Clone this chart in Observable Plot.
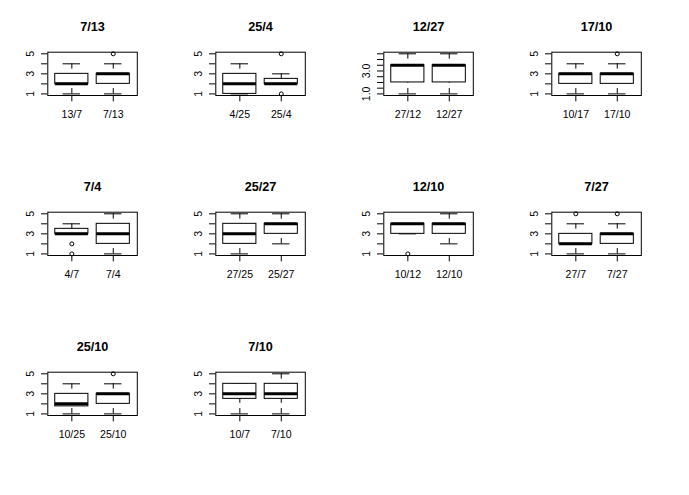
<!DOCTYPE html>
<html><head><meta charset="utf-8">
<script src="https://cdn.jsdelivr.net/npm/d3@7"></script>
<script src="https://cdn.jsdelivr.net/npm/@observablehq/plot@0.6"></script>
<style>
body{margin:0;background:#fff;}
#chart{position:relative;width:689px;height:495px;background:#fff;overflow:hidden;}
#chart svg{position:absolute;overflow:visible;}
</style></head><body><div id="chart"></div>
<script>
// Panel titles and group labels
const titles = ["7/13","25/4","12/27","17/10","7/4","25/27","12/10","7/27","25/10","7/10"];
const groupA = ["13/7","4/25","27/12","10/17","4/7","27/25","10/12","27/7","10/25","10/7"];
const groupB = ["7/13","25/4","12/27","17/10","7/4","25/27","12/10","7/27","25/10","7/10"];
// Box statistics: [lower whisker, Q1, median, Q3, upper whisker]
const statsA = [
  [1,2,2,3,4],[1,1,2,3,4],[1,2,3.5,3.5,4.5],[1,2,3,3,4],[3,3,3,3.5,4],
  [1,2,3,4,5],[3,3,4,4,4],[1,2,2,3,4],[1,1.75,2,3,4],[1,2.5,3,4,4]
];
const statsB = [
  [1,2,3,3,4],[2,2,2,2.5,3],[1,2,3.5,3.5,4.5],[1,2,3,3,4],[1,2,3,4,5],
  [2,3,4,4,5],[2,3,4,4,5],[1,2,3,3,4],[1,2,3,3,4],[1,2.5,3,4,5]
];
// Outliers
const outA = [[],[],[],[],[2,1],[],[1],[5],[],[]];
const outB = [[5],[1,5],[],[5],[],[],[],[5],[5],[]];
// Y axis ranges, ticks and labelled ticks
const yRanges = [[1,5],[1,5],[1,4.5],[1,5],[1,5],[1,5],[1,5],[1,5],[1,5],[1,5]];
const yTicksInt = [1,2,3,4,5];
const yLabelsInt = [1,3,5];
const yTicksHalf = [1,1.5,2,2.5,3,3.5,4,4.5];
const yLabelsHalf = [1,3];

const chart = document.getElementById("chart");
const font = '"Liberation Sans", Arial, Helvetica, sans-serif';

for (let i = 0; i < titles.length; i++) {
  const r = Math.floor(i / 4), c = i % 4;
  const boxes = [
    {g: 1, name: groupA[i], lo: statsA[i][0], q1: statsA[i][1], med: statsA[i][2], q3: statsA[i][3], hi: statsA[i][4]},
    {g: 2, name: groupB[i], lo: statsB[i][0], q1: statsB[i][1], med: statsB[i][2], q3: statsB[i][3], hi: statsB[i][4]}
  ];
  const outs = [...outA[i].map(v => ({g: 1, v})), ...outB[i].map(v => ({g: 2, v}))];
  const [y0, y1] = yRanges[i];
  const pad = (y1 - y0) * 0.04;
  const half = y1 !== 5;
  const ticks = half ? yTicksHalf : yTicksInt;
  const labs = half ? yLabelsHalf : yLabelsInt;
  const fmt = half ? (d => d.toFixed(1)) : (d => String(d));
  const bw = 0.4, sw = 0.21;
  const p = Plot.plot({
    width: 168, height: 160,
    marginLeft: 47.3, marginRight: 31.2, marginTop: 51.7, marginBottom: 65,
    x: {domain: [0.42, 2.58], axis: null},
    y: {domain: [y0 - pad, y1 + pad], axis: null},
    style: {fontFamily: font, fontSize: "10.56px", background: "transparent", color: "black"},
    marks: [
      Plot.ruleX(boxes, {x: "g", y1: "lo", y2: "q1", stroke: "black", strokeDasharray: "5.3,5.3"}),
      Plot.ruleX(boxes, {x: "g", y1: "hi", y2: "q3", stroke: "black", strokeDasharray: "5.3,5.3"}),
      Plot.ruleY(boxes, {y: "lo", x1: d => d.g - sw, x2: d => d.g + sw, stroke: "black"}),
      Plot.ruleY(boxes, {y: "hi", x1: d => d.g - sw, x2: d => d.g + sw, stroke: "black"}),
      Plot.rect(boxes, {x1: d => d.g - bw, x2: d => d.g + bw, y1: "q1", y2: "q3", fill: "white", stroke: "black"}),
      Plot.ruleY(boxes, {y: "med", x1: d => d.g - bw, x2: d => d.g + bw, stroke: "black", strokeWidth: 3}),
      Plot.dot(outs, {x: "g", y: "v", r: 2, stroke: "black", fill: "none", strokeWidth: 1}),
      Plot.frame({stroke: "black"}),
      Plot.axisY({ticks, tickSize: 6.3, tickFormat: () => "", label: null}),
      Plot.text(labs, {y: d => d, text: fmt, frameAnchor: "left", dx: -17.6, rotate: -90, textAnchor: "middle", lineAnchor: "middle", fill: "black"}),
      Plot.axisX({ticks: [1, 2], tickSize: 6.3, tickFormat: () => "", label: null}),
      Plot.text(boxes, {x: "g", text: "name", frameAnchor: "bottom", dy: 19, lineAnchor: "middle", fill: "black"}),
      Plot.text([titles[i]], {text: d => d, frameAnchor: "top", dy: -25, lineAnchor: "middle", fontWeight: "bold", fontSize: 12.7, fill: "black"})
    ]
  });
  p.style.left = (168.1 * c) + "px";
  p.style.top = (160 * r) + "px";
  chart.appendChild(p);
}
</script></body></html>
